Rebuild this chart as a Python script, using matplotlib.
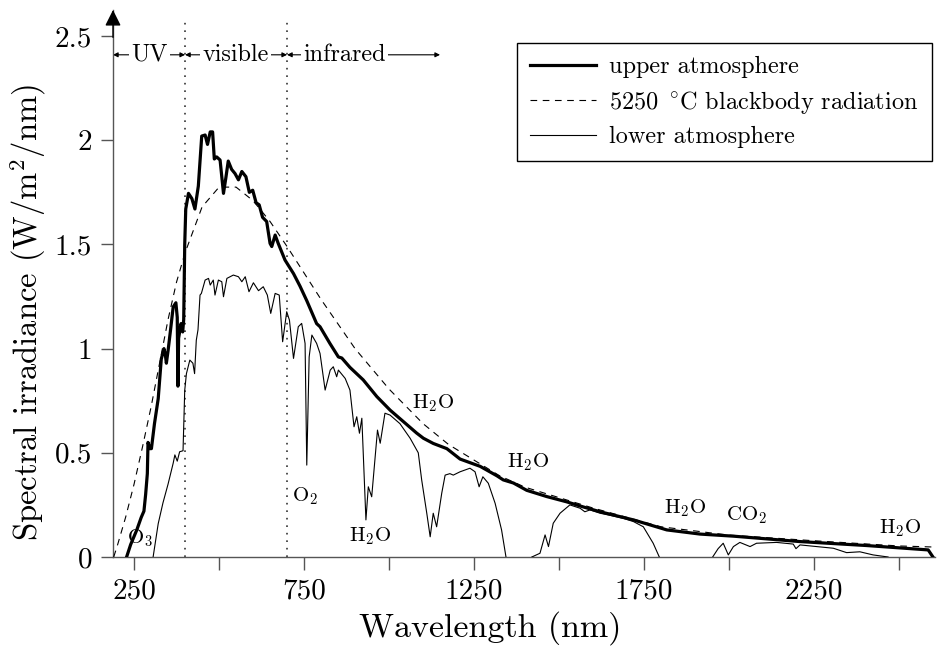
import numpy as np
import matplotlib
matplotlib.use('Agg')
import matplotlib.pyplot as plt

plt.rcParams['font.family'] = ['cmr10', 'DejaVu Serif']
plt.rcParams['mathtext.fontset'] = 'cm'
plt.rcParams['axes.formatter.use_mathtext'] = True

nan = np.nan

# upper atmosphere (top of atmosphere) spectrum
wl_upper = [228, 240, 258, 271, 279, 284, 289, 291, 296, 301, 310, 321, 330, 338, 342, 345,
            350, 358, 365, 373, 377, 379, 381, 388, 393, 396, 399, 402, 410, 420, 429, 439,
            449, 459, 466, 474, 481, 486, 493, 503, 513, 520, 527, 537, 547, 557, 567, 579,
            589, 599, 609, 618, 628, 640, 650, 655, 665, 674, 694, 719, 738, 758, 787, 797,
            826, 851, 861, 885, 924, 964, 1003, 1042, 1081, 1101, 1130, 1170, 1209, 1268,
            1317, 1336, 1366, 1405, 1464, 1522, 1572, 1621, 1719, 1817, 1915, 2013, 2209,
            2405, 2586, 2600]
upper = [0.0, 0.06, 0.13, 0.19, 0.22, 0.30, 0.40, 0.55, 0.52, 0.52, 0.64, 0.76, 0.95, 1.0,
         0.97, 0.93, 0.99, 1.10, 1.20, 1.22, 1.15, 0.82, 1.05, 1.12, 1.08, 1.14, 1.50, 1.67,
         1.745, 1.72, 1.67, 1.78, 2.02, 2.025, 1.98, 2.04, 2.04, 1.91, 1.92, 1.905, 1.745,
         1.82, 1.90, 1.86, 1.84, 1.81, 1.85, 1.825, 1.75, 1.76, 1.70, 1.69, 1.63, 1.61, 1.505,
         1.49, 1.545, 1.505, 1.425, 1.36, 1.30, 1.23, 1.12, 1.105, 1.025, 0.96, 0.955, 0.91,
         0.85, 0.77, 0.705, 0.65, 0.595, 0.57, 0.545, 0.52, 0.47, 0.435, 0.39, 0.37, 0.355,
         0.32, 0.29, 0.265, 0.24, 0.217, 0.178, 0.13, 0.11, 0.10, 0.074, 0.055, 0.034, 0.0]

# 5250 C blackbody curve
wl_bb = [190, 200, 225, 250, 275, 300, 325, 350, 375, 400, 450, 500, 550, 600, 650, 700,
         800, 900, 1000, 1100, 1175, 1250, 1325, 1400, 1600, 1800, 2000, 2250, 2500, 2600]
blackbody = [0.0, 0.05, 0.19, 0.35, 0.53, 0.72, 0.93, 1.14, 1.32, 1.46, 1.68, 1.775, 1.775,
             1.71, 1.61, 1.49, 1.236, 1.0, 0.806, 0.64, 0.54, 0.465, 0.39, 0.335, 0.235,
             0.145, 0.105, 0.078, 0.053, 0.048]

# lower atmosphere (sea level) spectrum, gaps where it is fully absorbed
wl_lower = [306, 321, 335, 350, 365, 370, 377, 384, 394, 399, 404, 414, 423, 428, 433, 438,
            444, 448, 459, 469, 474, 483, 488, 498, 508, 513, 523, 542, 557, 567, 577, 588,
            601, 616, 630, 642, 652, 665, 677, 687, 699, 707, 719, 733, 743, 753, 758, 765,
            773, 787, 797, 812, 827, 836, 846, 851, 871, 885, 897, 905, 913, 920, 932, 939,
            949, 966, 974, 988, 1003, 1032, 1062, 1086, 1096, 1111, 1121, 1130, 1140, 1155,
            1165, 1179, 1189, 1209, 1238, 1253, 1265, 1276, 1292, 1312, 1331, 1344,
            1380,
            1420, 1444, 1459, 1469, 1483, 1503, 1532, 1562, 1576, 1591, 1621, 1650, 1690,
            1719, 1748, 1777, 1795,
            1870,
            1952, 1968, 1983, 1998, 2013, 2032, 2062, 2081, 2140, 2189, 2197, 2209, 2307,
            2346, 2385, 2424, 2468]
lower = [0.0, 0.16, 0.26, 0.35, 0.45, 0.49, 0.46, 0.505, 0.51, 0.80, 0.88, 0.945, 0.93,
         0.88, 1.04, 1.09, 1.257, 1.265, 1.329, 1.337, 1.305, 1.329, 1.257, 1.329, 1.321,
         1.249, 1.337, 1.353, 1.345, 1.321, 1.345, 1.273, 1.316, 1.278, 1.297, 1.257, 1.169,
         1.265, 1.257, 1.033, 1.177, 1.137, 0.953, 1.105, 1.121, 1.025, 0.441, 0.96, 1.065,
         1.025, 0.977, 0.801, 0.897, 0.913, 0.865, 0.897, 0.857, 0.801, 0.625, 0.673, 0.594,
         0.666, 0.178, 0.337, 0.289, 0.609, 0.546, 0.69, 0.681, 0.64, 0.57, 0.50, 0.37, 0.21,
         0.097, 0.21, 0.145, 0.306, 0.393, 0.40, 0.393, 0.409, 0.426, 0.409, 0.337, 0.385,
         0.354, 0.258, 0.13, 0.0,
         nan,
         0.0, 0.018, 0.106, 0.05, 0.162, 0.21, 0.25, 0.234, 0.217, 0.226, 0.21, 0.20, 0.185,
         0.17, 0.145, 0.066, 0.0,
         nan,
         0.0, 0.04, 0.066, 0.01, 0.05, 0.07, 0.05, 0.066, 0.07, 0.062, 0.04, 0.058, 0.042,
         0.021, 0.025, 0.01, 0.0]

# absorption band labels
band_text = ['O$_3$', 'O$_2$', 'H$_2$O', 'H$_2$O', 'H$_2$O', 'H$_2$O', 'CO$_2$', 'H$_2$O']
band_x = [268, 753, 944, 1130, 1410, 1870, 2052, 2503]
band_y = [0.09, 0.29, 0.10, 0.74, 0.457, 0.234, 0.20, 0.138]

xticks = [250, 500, 750, 1000, 1250, 1500, 1750, 2000, 2250, 2500]
xticklabels = ['250', '', '750', '', '1250', '', '1750', '', '2250', '']
yticks = [0, 0.5, 1, 1.5, 2, 2.5]
yticklabels = ['0', '0.5', '1', '1.5', '2', '2.5']

fig = plt.figure(figsize=(9.38, 6.48), dpi=100)
ax = fig.add_axes([113 / 938, 91 / 648, 822 / 938, 547 / 648])

ax.plot(wl_upper, upper, color='black', lw=2.3, label='upper atmosphere', zorder=5)
ax.plot(wl_bb, blackbody, color='black', lw=0.8, ls=(0, (6, 5)),
        label=r'5250 $^\circ\!$C blackbody radiation', zorder=4)
ax.plot(wl_lower, lower, color='black', lw=0.8, label='lower atmosphere', zorder=4)

for x in (400, 700):
    ax.plot([x, x], [0, 2.59], color='#333333', lw=1.2, ls=(0, (1, 3.5)), zorder=2)

# spectral region arrows
ya = 2.41
arrow = dict(arrowstyle='<|-|>', lw=0.8, color='black', mutation_scale=7, shrinkA=0, shrinkB=0)
for x0, x1, xt, txt in [(188, 400, 295, 'UV'), (400, 700, 548, 'visible'),
                        (700, 1150, 870, 'infrared')]:
    ax.annotate('', xy=(x0, ya), xytext=(x1, ya), arrowprops=arrow, zorder=2)
    ax.text(xt, ya, txt, ha='center', va='center', fontsize=17.5, zorder=6,
            bbox=dict(fc='white', ec='none', pad=1.5))

for t, x, y in zip(band_text, band_x, band_y):
    ax.text(x, y, t, ha='center', va='center', fontsize=15, zorder=6)

ax.set_xlim(188, 2606)
ax.set_ylim(0, 2.625)
ax.set_xticks(xticks)
ax.set_xticklabels(xticklabels)
ax.set_yticks(yticks)
ax.set_yticklabels(yticklabels)
ax.tick_params(direction='out', length=9, width=1, color='#555555', labelsize=21, pad=6)

for s in ('top', 'right'):
    ax.spines[s].set_visible(False)
for s in ('left', 'bottom'):
    ax.spines[s].set_color('#555555')
    ax.spines[s].set_linewidth(1)

# arrow head on the y axis
ax.annotate('', xy=(0, 1), xytext=(0, 0.95), xycoords='axes fraction',
            arrowprops=dict(arrowstyle='-|>', color='black', lw=1, mutation_scale=24,
                            shrinkA=0, shrinkB=0))

ax.set_xlabel('Wavelength (nm)', fontsize=24.5)
ax.set_ylabel('Spectral irradiance (W/m$^2$/nm)', fontsize=23.5)
ax.xaxis.set_label_coords((490 - 113) / 822, (557 - 611) / 547)
ax.yaxis.set_label_coords((48 - 113) / 822, (557 - 313) / 547)

leg = ax.legend(loc='upper right', bbox_to_anchor=(932 / 938, 1 - 43 / 648),
                bbox_transform=fig.transFigure, borderaxespad=0, fontsize=17.5,
                handlelength=2.7, handletextpad=0.55, labelspacing=0.42,
                fancybox=False, framealpha=1, edgecolor='black', borderpad=0.55)
leg.get_frame().set_linewidth(1)

fig.savefig('out.png', dpi=100)
